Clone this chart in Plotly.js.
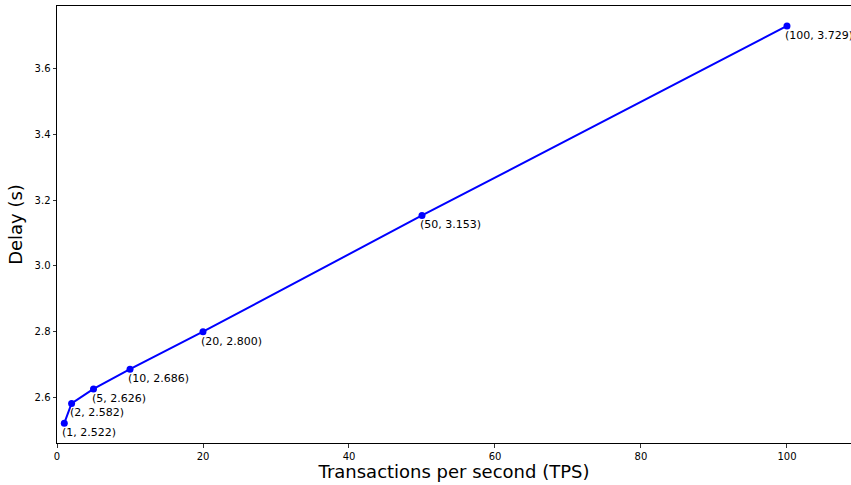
<!DOCTYPE html>
<html>
<head>
<meta charset="utf-8">
<script src="https://cdn.plot.ly/plotly-3.0.1.min.js"></script>
<style>html,body{margin:0;padding:0;background:#fff;}#chart{width:851px;height:485px;}</style>
</head>
<body>
<div id="chart"></div>
<script>
const tps = [1, 2, 5, 10, 20, 50, 100];
const delay = [2.522, 2.582, 2.626, 2.686, 2.800, 3.153, 3.729];
const pointLabels = ["(1, 2.522)", "(2, 2.582)", "(5, 2.626)", "(10, 2.686)", "(20, 2.800)", "(50, 3.153)", "(100, 3.729)"];
const xTicks = [0, 20, 40, 60, 80, 100];
const yTicks = [2.6, 2.8, 3.0, 3.2, 3.4, 3.6];

const font = "DejaVu Sans, sans-serif";

const trace = {
  x: tps, y: delay, mode: "lines+markers", type: "scatter",
  line: {color: "#0000ff", width: 2},
  marker: {color: "#0000ff", size: 7},
  hoverinfo: "none", cliponaxis: false
};

const annotations = tps.map((x, i) => ({
  x: x, y: delay[i], xref: "x", yref: "y",
  text: pointLabels[i], showarrow: false,
  xanchor: "left", yanchor: "top", xshift: -4, yshift: -1,
  font: {family: font, size: 11, color: "#000"}
}));

const layout = {
  width: 851, height: 485,
  margin: {l: 57, r: 0, t: 6, b: 42, pad: 0},
  paper_bgcolor: "#fff", plot_bgcolor: "#fff",
  showlegend: false,
  xaxis: {
    range: [0, 108.77], tickvals: xTicks, ticktext: xTicks.map(String),
    ticks: "outside", ticklen: 3.5, tickwidth: 0.8, tickcolor: "#000",
    showgrid: false, zeroline: false, showline: true, linecolor: "#000", linewidth: 1,
    mirror: true,
    tickfont: {family: font, size: 10, color: "#000"},
    title: {text: "Transactions per second (TPS)", font: {family: font, size: 18, color: "#000"}, standoff: 3}
  },
  yaxis: {
    range: [2.4617, 3.7894], tickvals: yTicks, ticktext: yTicks.map(v => v.toFixed(1)),
    ticks: "outside", ticklen: 3.5, tickwidth: 0.8, tickcolor: "#000",
    showgrid: false, zeroline: false, showline: true, linecolor: "#000", linewidth: 1,
    mirror: false,
    tickfont: {family: font, size: 10, color: "#000"},
    title: {text: "Delay (s)", font: {family: font, size: 18, color: "#000"}, standoff: 7}
  },
  annotations: annotations
};

Plotly.newPlot("chart", [trace], layout, {displayModeBar: false, staticPlot: true});
</script>
</body>
</html>
